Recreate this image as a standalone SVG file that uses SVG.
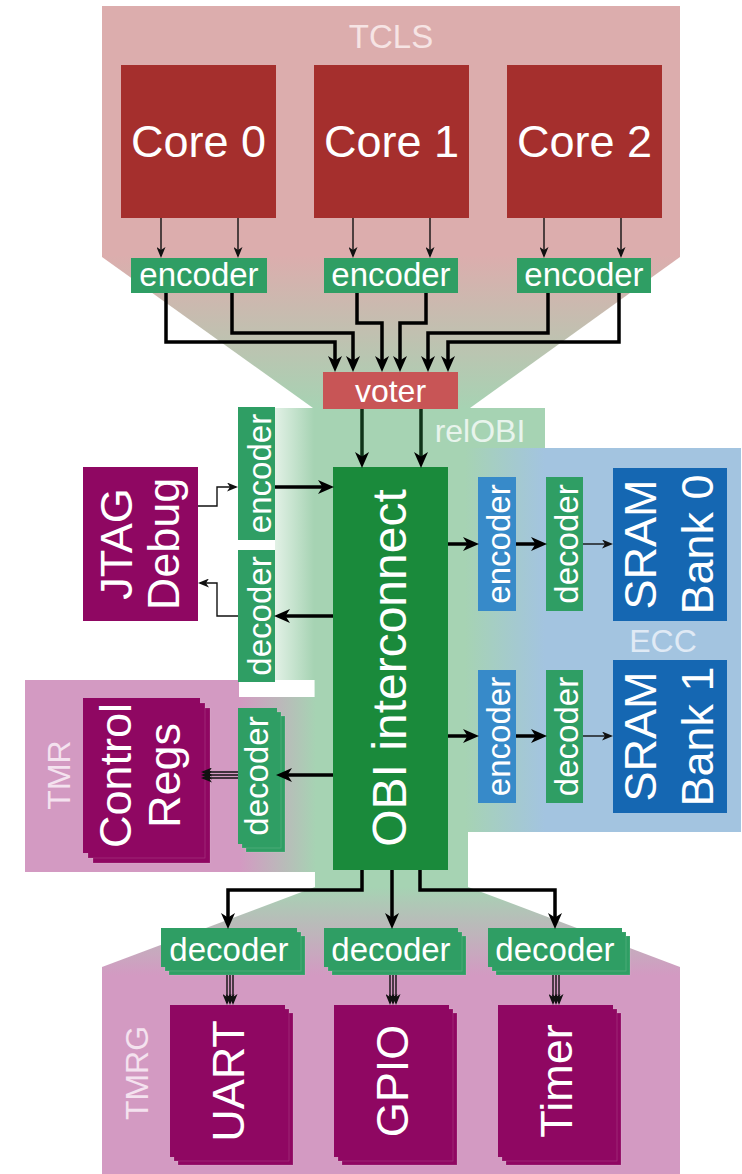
<svg xmlns="http://www.w3.org/2000/svg" width="742" height="1174" viewBox="0 0 742 1174">
  <defs>
    <style>
      text{font-family:"Liberation Sans",Arial,Helvetica,sans-serif;fill:#fff;text-anchor:middle}
      .core{fill:#a52f2d}
      .enc{fill:#2f9e64}
      .ecc-enc{fill:#378ac9}
      .per{fill:#8f0762}
      .sram{fill:#1567b2}
      .stk{stroke:#fff;stroke-opacity:.18;stroke-width:.7}
      .thick{fill:none;stroke:#000;stroke-width:3.5;stroke-linejoin:miter;marker-end:url(#ah)}
      .dark{stroke:#0f3319}
      .thin{fill:none;stroke:#111;stroke-width:1.4;marker-end:url(#ahs)}
      .big{font-size:45px}
      .mid{font-size:33px}
      .reg{font-size:32px}
    </style>
    <marker id="ah" viewBox="0 0 16 14" refX="10" refY="7" markerWidth="16" markerHeight="14" markerUnits="userSpaceOnUse" orient="auto">
      <path d="M0,0 L16,7 L0,14 L4.5,7 Z" fill="#000"/>
    </marker>
    <marker id="ahs" viewBox="0 0 11 9" refX="9" refY="4.5" markerWidth="11" markerHeight="9" markerUnits="userSpaceOnUse" orient="auto">
      <path d="M0,0 L11,4.5 L0,9 L3,4.5 Z" fill="#111"/>
    </marker>
    <linearGradient id="gTcls" gradientUnits="userSpaceOnUse" x1="0" y1="255" x2="0" y2="410">
      <stop offset="0" stop-color="#dcadad"/>
      <stop offset="1" stop-color="#a6d3b3"/>
    </linearGradient>
    <linearGradient id="gTmrg" gradientUnits="userSpaceOnUse" x1="0" y1="887" x2="0" y2="975">
      <stop offset="0" stop-color="#a6d3b3"/>
      <stop offset="1" stop-color="#d39ac2"/>
    </linearGradient>
    <linearGradient id="gRelLeft" gradientUnits="userSpaceOnUse" x1="275" y1="0" x2="314" y2="0">
      <stop offset="0" stop-color="#e2f1e6"/>
      <stop offset="1" stop-color="#a6d3b3"/>
    </linearGradient>
    <linearGradient id="gEcc" gradientUnits="userSpaceOnUse" x1="465" y1="0" x2="545" y2="0">
      <stop offset="0" stop-color="#a6d3b3"/>
      <stop offset="1" stop-color="#a3c4e0"/>
    </linearGradient>
    <linearGradient id="gTmr" gradientUnits="userSpaceOnUse" x1="240" y1="0" x2="316" y2="0">
      <stop offset="0" stop-color="#d39ac2"/>
      <stop offset="1" stop-color="#a6d3b3"/>
    </linearGradient>
  </defs>

  <rect width="742" height="1174" fill="#fff"/>

  <!-- redundancy domains -->
  <g id="tcls">
    <path d="M102,6 H680 V257 L470,408 H313 L102,257 Z" fill="url(#gTcls)"/>
    <text x="391" y="48" class="mid" style="fill:#f6e4e4">TCLS</text>
  </g>
  <g id="tmrg">
    <path d="M315,887 H468 L680,967 V1174 H102 V967 Z" fill="url(#gTmrg)"/>
    <text transform="translate(135,1073) rotate(-90)" y="13" class="reg" style="fill:#f4e2ef">TMRG</text>
  </g>
  <g id="relobi">
    <path d="M314,408 H545 V448 H468 V887 H315 Z" fill="#a6d3b3"/>
    <rect x="275" y="408" width="40" height="272" fill="url(#gRelLeft)"/>
    <text x="480" y="442" class="reg" style="fill:#e8f4ec">relOBI</text>
  </g>
  <g id="ecc">
    <rect x="445" y="448" width="296" height="384" fill="url(#gEcc)"/>
    <text x="663" y="652" class="reg" style="fill:#e0eaf5">ECC</text>
  </g>
  <g id="tmr">
    <rect x="25" y="680" width="214" height="192" fill="#d39ac2"/>
    <rect x="238" y="697" width="78" height="175" fill="url(#gTmr)"/>
    <text transform="translate(58,775) rotate(-90)" y="12" class="reg" style="fill:#f4e2ef">TMR</text>
  </g>

  <!-- cores -->
  <g id="core0"><rect x="121" y="65" width="155" height="153" class="core"/><text x="198.5" y="157" class="big">Core 0</text></g>
  <g id="core1"><rect x="314" y="65" width="155" height="153" class="core"/><text x="391.5" y="157" class="big">Core 1</text></g>
  <g id="core2"><rect x="507" y="65" width="155" height="153" class="core"/><text x="584.5" y="157" class="big">Core 2</text></g>

  <g id="enc-core0"><rect x="131" y="258" width="136" height="35" class="enc"/><text x="199" y="286" class="mid">encoder</text></g>
  <g id="enc-core1"><rect x="324" y="258" width="134" height="35" class="enc"/><text x="391" y="286" class="mid">encoder</text></g>
  <g id="enc-core2"><rect x="517" y="258" width="134" height="35" class="enc"/><text x="584" y="286" class="mid">encoder</text></g>

  <g id="voter"><rect x="323" y="372" width="135" height="37" fill="#c85556"/><text x="390.5" y="402" class="reg">voter</text></g>

  <g id="obi"><rect x="333" y="467" width="115" height="403" fill="#1a8a3b"/><text transform="translate(390.5,668) rotate(-90)" y="15" style="font-size:48px">OBI interconnect</text></g>

  <!-- debug port -->
  <g id="jtag">
    <rect x="83" y="467" width="115" height="154" class="per"/>
    <text transform="translate(140.5,544) rotate(-90)" class="big"><tspan x="0" y="-9">JTAG</tspan><tspan x="0" y="38">Debug</tspan></text>
  </g>
  <g id="jtag-enc"><rect x="238" y="407" width="37" height="133" class="enc"/><text transform="translate(256.5,473.5) rotate(-90)" y="14" class="mid">encoder</text></g>
  <g id="jtag-dec"><rect x="238" y="550" width="37" height="132" class="enc"/><text transform="translate(256.5,616) rotate(-90)" y="14" class="mid">decoder</text></g>

  <!-- memory banks -->
  <g id="ecc-enc0"><rect x="478" y="477" width="38" height="134" class="ecc-enc"/><text transform="translate(497,544) rotate(-90)" y="13" class="mid">encoder</text></g>
  <g id="ecc-dec0"><rect x="546" y="477" width="37" height="134" class="enc"/><text transform="translate(564.5,544) rotate(-90)" y="13" class="mid">decoder</text></g>
  <g id="sram0">
    <rect x="613" y="468" width="114" height="153" class="sram"/>
    <text transform="translate(670,544.5) rotate(-90)" class="big"><tspan x="0" y="-14">SRAM</tspan><tspan x="0" y="43">Bank 0</tspan></text>
  </g>
  <g id="ecc-enc1"><rect x="478" y="670" width="38" height="133" class="ecc-enc"/><text transform="translate(497,736.5) rotate(-90)" y="13" class="mid">encoder</text></g>
  <g id="ecc-dec1"><rect x="546" y="670" width="37" height="133" class="enc"/><text transform="translate(564.5,736.5) rotate(-90)" y="13" class="mid">decoder</text></g>
  <g id="sram1">
    <rect x="613" y="660" width="114" height="153" class="sram"/>
    <text transform="translate(670,736.5) rotate(-90)" class="big"><tspan x="0" y="-14">SRAM</tspan><tspan x="0" y="43">Bank 1</tspan></text>
  </g>

  <!-- triplicated control registers -->
  <g id="ctrl-regs">
    <rect x="93" y="708" width="117" height="155" class="per stk"/>
    <rect x="88" y="703" width="117" height="155" class="per stk"/>
    <rect x="83" y="698" width="117" height="155" class="per"/>
    <text transform="translate(141.5,775.5) rotate(-90)" class="big"><tspan x="0" y="-11">Control</tspan><tspan x="0" y="38">Regs</tspan></text>
  </g>
  <g id="ctrl-dec">
    <rect x="246" y="716" width="39" height="136" class="enc stk"/>
    <rect x="242" y="712" width="39" height="136" class="enc stk"/>
    <rect x="238" y="708" width="39" height="136" class="enc"/>
    <text transform="translate(257.5,776) rotate(-90)" y="10.5" class="mid">decoder</text>
  </g>

  <!-- peripherals -->
  <g id="uart-dec">
    <rect x="169" y="936" width="136" height="39" class="enc stk"/>
    <rect x="165" y="932" width="136" height="39" class="enc stk"/>
    <rect x="161" y="928" width="136" height="39" class="enc"/>
    <text x="229" y="961" class="mid">decoder</text>
  </g>
  <g id="gpio-dec">
    <rect x="332" y="936" width="134" height="39" class="enc stk"/>
    <rect x="328" y="932" width="134" height="39" class="enc stk"/>
    <rect x="324" y="928" width="134" height="39" class="enc"/>
    <text x="391" y="961" class="mid">decoder</text>
  </g>
  <g id="timer-dec">
    <rect x="496" y="936" width="134" height="39" class="enc stk"/>
    <rect x="492" y="932" width="134" height="39" class="enc stk"/>
    <rect x="488" y="928" width="134" height="39" class="enc"/>
    <text x="555" y="961" class="mid">decoder</text>
  </g>
  <g id="uart">
    <rect x="178" y="1013" width="115" height="152" class="per stk"/>
    <rect x="174" y="1009" width="115" height="152" class="per stk"/>
    <rect x="170" y="1005" width="115" height="152" class="per"/>
    <text transform="translate(227.5,1081) rotate(-90)" y="16" class="big">UART</text>
  </g>
  <g id="gpio">
    <rect x="342" y="1013" width="115" height="152" class="per stk"/>
    <rect x="338" y="1009" width="115" height="152" class="per stk"/>
    <rect x="334" y="1005" width="115" height="152" class="per"/>
    <text transform="translate(391.5,1081) rotate(-90)" y="16" class="big">GPIO</text>
  </g>
  <g id="timer">
    <rect x="506" y="1013" width="115" height="152" class="per stk"/>
    <rect x="502" y="1009" width="115" height="152" class="per stk"/>
    <rect x="498" y="1005" width="115" height="152" class="per"/>
    <text transform="translate(555.5,1081) rotate(-90)" y="16" class="big">Timer</text>
  </g>

  <!-- connectors -->
  <g id="connectors">
    <path class="thin" d="M161,218 V256"/>
    <path class="thin" d="M238,218 V256"/>
    <path class="thin" d="M353,218 V256"/>
    <path class="thin" d="M430,218 V256"/>
    <path class="thin" d="M544,218 V256"/>
    <path class="thin" d="M621,218 V256"/>

    <path class="thick" d="M166,293 V342 H335 V366"/>
    <path class="thick" d="M232,293 V333 H353 V366"/>
    <path class="thick" d="M357,293 V323 H382 V366"/>
    <path class="thick" d="M426,293 V323 H400 V366"/>
    <path class="thick" d="M548,293 V333 H428 V366"/>
    <path class="thick" d="M619,293 V342 H448 V366"/>

    <path class="thick dark" d="M362,409 V462"/>
    <path class="thick dark" d="M421,409 V462"/>

    <path class="thin" d="M198,506 H217 V487 H236"/>
    <path class="thick" d="M275,487 H328"/>
    <path class="thick" d="M333,616 H280"/>
    <path class="thin" d="M238,616 H217 V583 H200"/>

    <path class="thick" d="M448,544 H473"/>
    <path class="thick" d="M516,544 H541"/>
    <path class="thin" d="M583,544 H611"/>
    <path class="thick" d="M448,736 H473"/>
    <path class="thick" d="M516,736 H541"/>
    <path class="thin" d="M583,736 H611"/>

    <path class="thick" d="M333,775 H282"/>
    <path class="thin" d="M238,772 H203"/>
    <path class="thin" d="M238,775 H203"/>
    <path class="thin" d="M238,778 H203"/>

    <path class="thick" d="M362,870 V890 H228 V923"/>
    <path class="thick" d="M392,870 V923"/>
    <path class="thick" d="M420,870 V890 H555 V923"/>

    <path class="thin" d="M227,975 V1003"/>
    <path class="thin" d="M230,975 V1003"/>
    <path class="thin" d="M233,975 V1003"/>
    <path class="thin" d="M390,975 V1003"/>
    <path class="thin" d="M393,975 V1003"/>
    <path class="thin" d="M396,975 V1003"/>
    <path class="thin" d="M553,975 V1003"/>
    <path class="thin" d="M556,975 V1003"/>
    <path class="thin" d="M559,975 V1003"/>
  </g>
</svg>
